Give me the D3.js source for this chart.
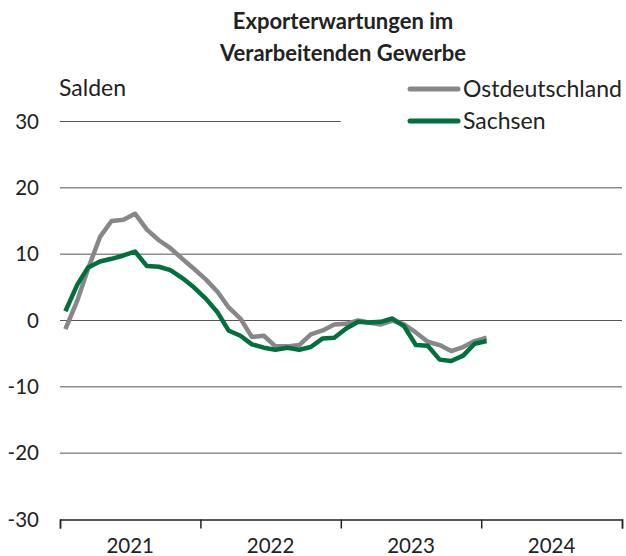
<!DOCTYPE html>
<html>
<head>
<meta charset="utf-8">
<script src="https://cdn.jsdelivr.net/npm/d3@7"></script>
<style>
  body { margin: 0; background: #fff; }
  text { font-family: "Source Sans Pro", Lato, "Noto Sans", sans-serif; fill: #222; }
</style>
</head>
<body>
<svg id="chart" width="626" height="556"></svg>
<script>
// monthly values Jan 2021 .. Jan 2024
const months = d3.timeMonths(new Date(2021, 0, 1), new Date(2024, 1, 1));
const ostdeutschland = [
  -1.3, 3.0, 7.8, 12.6, 15.0, 15.2, 16.1, 13.7, 12.1, 10.9,
  9.3, 7.8, 6.2, 4.3, 2.0, 0.3, -2.5, -2.3, -3.9, -3.9,
  -3.7, -2.1, -1.5, -0.6, -0.5, 0.0, -0.3, -0.6, 0.0, -0.6,
  -1.8, -3.2, -3.7, -4.6, -4.0, -3.1, -2.6
];
const sachsen = [
  1.4, 5.4, 8.0, 8.9, 9.3, 9.8, 10.4, 8.2, 8.1, 7.6,
  6.4, 5.0, 3.3, 1.2, -1.5, -2.3, -3.6, -4.1, -4.4, -4.1,
  -4.4, -4.0, -2.7, -2.6, -1.2, -0.2, -0.3, -0.2, 0.3, -0.9,
  -3.7, -3.8, -5.9, -6.1, -5.3, -3.5, -3.1
];
const yTicks = [30, 20, 10, 0, -10, -20, -30];
const years = [2021, 2022, 2023, 2024];
const series = [
  { name: "Ostdeutschland", values: ostdeutschland, color: "#87878a" },
  { name: "Sachsen", values: sachsen, color: "#00703c" }
];

const svg = d3.select("#chart");

const x = d3.scaleTime()
  .domain([new Date(2021, 0, 1), new Date(2025, 0, 1)])
  .range([60, 622]);

const y = d3.scaleLinear()
  .domain([-30, 30])
  .range([519.5, 121.5]);

// mid-month position
const mid = d => new Date(d.getFullYear(), d.getMonth(), 15);

// title
svg.append("text")
  .attr("x", 343).attr("y", 29)
  .attr("text-anchor", "middle")
  .style("font-size", "22px").style("font-weight", "bold")
  .text("Exporterwartungen im");
svg.append("text")
  .attr("x", 343).attr("y", 61)
  .attr("text-anchor", "middle")
  .style("font-size", "22px").style("font-weight", "bold")
  .text("Verarbeitenden Gewerbe");

svg.append("text")
  .attr("x", 59).attr("y", 96)
  .style("font-size", "23px")
  .text("Salden");

// gridlines
svg.append("g")
  .selectAll("line")
  .data(yTicks.filter(d => d !== -30))
  .enter()
  .append("line")
  .attr("x1", 60)
  .attr("x2", d => d === 30 ? x(new Date(2023, 0, 1)) : 622)
  .attr("y1", d => y(d))
  .attr("y2", d => y(d))
  .attr("stroke", "#555")
  .attr("stroke-width", 1);

// y labels
svg.append("g")
  .selectAll("text")
  .data(yTicks)
  .enter()
  .append("text")
  .attr("x", 39)
  .attr("y", d => y(d) + 7)
  .attr("text-anchor", "end")
  .style("font-size", "20.5px")
  .text(d => d);

// x axis
const xAxis = d3.axisBottom(x)
  .tickValues(years.map(yr => new Date(yr, 0, 1)).concat([new Date(2025, 0, 1)]))
  .tickSize(9)
  .tickFormat("");
const gx = svg.append("g")
  .attr("transform", `translate(0,${y(-30)})`)
  .call(xAxis);
gx.select(".domain").attr("stroke", "#222").attr("stroke-width", 1.5);
gx.selectAll(".tick line").attr("stroke", "#222").attr("stroke-width", 1.5);

svg.append("g")
  .selectAll("text")
  .data(years)
  .enter()
  .append("text")
  .attr("x", d => (x(new Date(d, 0, 1)) + x(new Date(d + 1, 0, 1))) / 2)
  .attr("y", 553)
  .attr("text-anchor", "middle")
  .style("font-size", "20.5px")
  .text(d => d);

// lines
const line = d3.line()
  .x((d, i) => x(mid(months[i])))
  .y(d => y(d));

svg.append("g")
  .selectAll("path")
  .data(series)
  .enter()
  .append("path")
  .attr("d", d => line(d.values))
  .attr("fill", "none")
  .attr("stroke", d => d.color)
  .attr("stroke-width", 4.5)
  .attr("stroke-linejoin", "round");

// legend
const legend = svg.append("g")
  .selectAll("g")
  .data(series)
  .enter()
  .append("g")
  .attr("transform", (d, i) => `translate(410,${89 + i * 32})`);
legend.append("line")
  .attr("x1", 0).attr("x2", 48)
  .attr("stroke", d => d.color)
  .attr("stroke-width", 5)
  .attr("stroke-linecap", "round");
legend.append("text")
  .attr("x", 53).attr("y", 8)
  .style("font-size", "23px")
  .text(d => d.name);
</script>
</body>
</html>
